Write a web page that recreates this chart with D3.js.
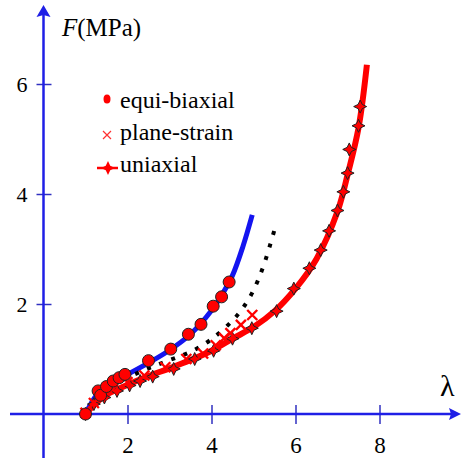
<!DOCTYPE html>
<html><head><meta charset="utf-8">
<script src="https://cdn.jsdelivr.net/npm/d3@7/dist/d3.min.js"></script>
<style>html,body{margin:0;padding:0;background:#fff;}svg{display:block;} svg text{font-family:"Liberation Serif", "Times New Roman", serif !important;}</style>
</head><body>
<svg id="c" width="461" height="460" font-family="Liberation Serif"></svg>
<script>
// ---- data ----
const xTicks = [2, 4, 6, 8];
const yTicks = [2, 4, 6];
const legendLabels = ["equi-biaxial", "plane-strain", "uniaxial"];
// model curves [lambda, F]
const equiModel = [[1,0],[1.25,0.33],[1.5,0.5],[1.75,0.62],[2,0.72],[2.5,0.93],[3,1.16],[3.5,1.45],[4,1.88],[4.25,2.17],[4.5,2.52],[4.75,3.05],[4.97,3.62]];
const planeModel = [[1,0],[1.5,0.45],[2,0.66],[2.5,0.83],[3,0.98],[3.5,1.13],[4,1.36],[4.5,1.7],[4.75,1.93],[5,2.25],[5.25,2.72],[5.5,3.35]];
const uniModel = [[1,0],[1.25,0.2],[1.5,0.35],[2,0.53],[2.5,0.69],[3,0.83],[3.5,0.98],[4,1.15],[4.5,1.37],[5,1.58],[5.5,1.87],[6,2.28],[6.5,2.82],[7,3.68],[7.25,4.38],[7.5,5.2],[7.7,6.35]];
// experimental points
const equiData = [[1.0,0],[1.3,0.42],[1.36,0.34],[1.5,0.5],[1.66,0.6],[1.8,0.66],[1.94,0.72],[2.5,0.97],[3.03,1.18],[3.45,1.45],[3.75,1.63],[4.04,1.96],[4.24,2.13],[4.42,2.4]];
const planeData = [[1.0,0.02],[1.2,0.2],[1.4,0.35],[1.65,0.45],[2.0,0.58],[2.4,0.7],[2.9,0.85],[3.4,1.0],[3.8,1.1],[4.1,1.25],[4.3,1.38],[4.45,1.47],[4.7,1.62],[4.97,1.8]];
const uniData = [[1.0,0],[1.2,0.18],[1.45,0.3],[1.75,0.42],[2.05,0.52],[2.3,0.6],[2.6,0.68],[3.1,0.82],[3.6,1.0],[4.05,1.15],[4.5,1.37],[4.96,1.56],[5.55,1.87],[5.96,2.28],[6.33,2.65],[6.6,2.98],[6.8,3.33],[7.0,3.7],[7.14,4.04],[7.24,4.38],[7.28,4.81],[7.5,5.24],[7.54,5.59]];

// ---- scales ----
const x = d3.scaleLinear().domain([0, 10]).range([43.5, 463.5]);
const y = d3.scaleLinear().domain([0, 6]).range([414, 84]);
const svg = d3.select("#c");
const axisBlue = "#1f1fe6";
const FONT = "Liberation Serif";

// ---- axes ----
const xAxis = svg.append("g").attr("transform", `translate(0,${y(0)})`)
  .call(d3.axisBottom(x).tickValues(xTicks).tickSize(10).tickSizeOuter(0).tickFormat(d3.format("d")));
xAxis.attr("font-family", FONT);
xAxis.select(".domain").remove();
xAxis.selectAll(".tick line").attr("y1", -9).attr("y2", 10).attr("stroke", "#3030c0").attr("stroke-width", 1.5);
xAxis.selectAll(".tick text").attr("y", 23).attr("dy", "0.71em").attr("font-size", 23).attr("font-family", FONT).attr("fill", "#000");

const yAxis = svg.append("g").attr("transform", `translate(${x(0)},0)`)
  .call(d3.axisLeft(y).tickValues(yTicks).tickSize(7).tickSizeOuter(0).tickFormat(d3.format("d")));
yAxis.attr("font-family", FONT);
yAxis.select(".domain").remove();
yAxis.selectAll(".tick line").attr("x1", -7).attr("x2", 8).attr("stroke", "#3030c0").attr("stroke-width", 1.5);
yAxis.selectAll(".tick text").attr("x", -16).attr("dy", "0.36em").attr("font-size", 22).attr("font-family", FONT).attr("fill", "#000");

// axis lines with arrows
svg.append("line").attr("x1", 10).attr("x2", 452).attr("y1", y(0)).attr("y2", y(0)).attr("stroke", axisBlue).attr("stroke-width", 2.5);
svg.append("path").attr("d", `M461,${y(0)} L449,${y(0)-6} L451,${y(0)} L449,${y(0)+6} Z`).attr("fill", axisBlue);
svg.append("line").attr("x1", x(0)).attr("x2", x(0)).attr("y1", 14).attr("y2", 458).attr("stroke", axisBlue).attr("stroke-width", 2.5);
svg.append("path").attr("d", `M${x(0)},5 L${x(0)-7},17 L${x(0)},15 L${x(0)+7},17 Z`).attr("fill", axisBlue);

// axis titles
const ft = svg.append("text").attr("x", 62).attr("y", 36).attr("font-size", 25).attr("font-family", FONT).attr("fill", "#000");
ft.append("tspan").attr("font-style", "italic").text("F");
ft.append("tspan").text("(MPa)");
svg.append("text").attr("x", 440).attr("y", 396).attr("font-size", 30).attr("font-family", FONT).attr("fill", "#000").text("λ");

// ---- lines ----
const line = d3.line().x(d => x(d[0])).y(d => y(d[1])).curve(d3.curveCatmullRom.alpha(0.5));
svg.append("path").datum(equiModel).attr("d", line).attr("fill", "none").attr("stroke", "#1414f0").attr("stroke-width", 5);
svg.append("path").datum(planeModel).attr("d", line).attr("fill", "none").attr("stroke", "#000").attr("stroke-width", 4).attr("stroke-dasharray", "4,9");
svg.append("path").datum(uniModel).attr("d", line).attr("fill", "none").attr("stroke", "#ff0000").attr("stroke-width", 6);

// ---- markers ----
function starPath(r){ const k=r*0.32; return `M0,${-r} L${k},${-k} L${r},0 L${k},${k} L0,${r} L${-k},${k} L${-r},0 L${-k},${-k} Z`; }
svg.append("g").selectAll("path").data(uniData).join("path")
  .attr("transform", d => `translate(${x(d[0])},${y(d[1])})`)
  .attr("d", starPath(6.5)).attr("fill", "#ff0000").attr("stroke", "#222").attr("stroke-width", 1);
svg.append("g").selectAll("path").data(planeData).join("path")
  .attr("transform", d => `translate(${x(d[0])},${y(d[1])})`)
  .attr("d","M-5,-5L5,5M-5,5L5,-5").attr("stroke","#ff0000").attr("stroke-width",2.4);
svg.append("g").selectAll("circle").data(equiData).join("circle")
  .attr("cx", d => x(d[0])).attr("cy", d => y(d[1])).attr("r", 6)
  .attr("fill", "#ff0000").attr("stroke", "#222").attr("stroke-width", 1);

// ---- legend ----
const rows = [99, 135, 168];
const base = [108, 140, 172];
legendLabels.forEach((t, i) => {
  svg.append("text").attr("x", 120).attr("y", base[i]).attr("font-size", 24).attr("font-family", FONT).attr("fill", "#000").text(t);
});
svg.append("ellipse").attr("cx", 107).attr("cy", rows[0]).attr("rx", 3.5).attr("ry", 4.5).attr("fill", "#ff0000");
svg.append("path").attr("transform", `translate(107,${rows[1]})`).attr("d", "M-4,-4L4,4M-4,4L4,-4").attr("stroke", "#ff3030").attr("stroke-width", 1.2);
svg.append("line").attr("x1", 97).attr("x2", 118).attr("y1", rows[2]).attr("y2", rows[2]).attr("stroke", "#ff0000").attr("stroke-width", 2.5);
svg.append("path").attr("transform", `translate(108,${rows[2]})`).attr("d", starPath(7)).attr("fill", "#ff0000");
</script>
</body></html>
